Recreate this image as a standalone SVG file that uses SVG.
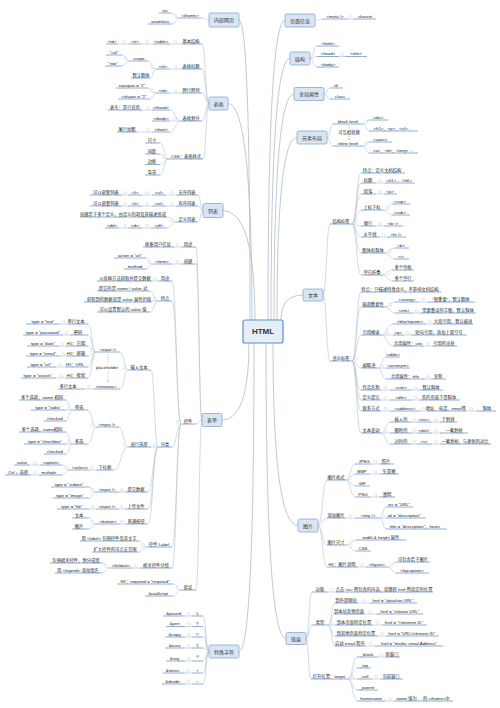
<svg xmlns="http://www.w3.org/2000/svg" width="500" height="708" viewBox="0 0 500 708">
<style>
.t{font-family:"Liberation Sans","Noto Sans CJK SC",sans-serif;font-size:4.3px;fill:#1a1a1a;text-anchor:middle;dominant-baseline:central}
.bt{font-family:"Liberation Sans","Noto Sans CJK SC",sans-serif;font-size:5px;fill:#333;text-anchor:middle;dominant-baseline:central}
.u{stroke:#6f9bd0;stroke-width:0.8;fill:none}
.c{stroke:#b6c2d0;stroke-width:0.6;fill:none}
.m{stroke:#adbccd;stroke-width:0.8;fill:none}
.box{fill:#d9e5f3;stroke:#86a8d0;stroke-width:0.8}
.k{fill:#fff;stroke:#c3cbd4;stroke-width:0.5}
.r{stroke:#c8b040;stroke-width:0.6;fill:none;stroke-dasharray:1 0.7}
</style>
<defs>
<marker id="ah" viewBox="0 0 6 6" refX="5" refY="3" markerWidth="4" markerHeight="4" orient="auto"><path d="M0 0L6 3L0 6" fill="none" stroke="#c8b040" stroke-width="1"/></marker>
</defs>
<rect width="500" height="708" fill="#fff"/>
<g id="connectors">
<path class="m" d="M239 20Q250 20 250 320M228 103.5Q252 103.5 252 320M223 210.5Q255 210.5 255 320M285 20.5Q268 20.5 268 320M290 58.5Q271 58.5 271 320M294 94Q274 94 274 320M297 137.5Q277 137.5 277 320M303 295Q281 295 281 320M249 343Q249 420 222 420M254 343Q254 651.5 239 651.5M273 343Q273 525.5 298 525.5M266 343Q266 638.5 286 638.5"/>
<path class="c" d="M209 20C205 20 205 18 201 18M179 18C175 18 175 13 171 13M179 18C175.5 18 175.5 24 172 24"/>
<path class="c" d="M209 103.5C205.5 103.5 205.5 44 202 44M209 103.5C205.5 103.5 205.5 69 202 69M209 103.5C205.5 103.5 205.5 93 202 93M209 103.5C205.5 103.5 205.5 121 202 121M209 103.5C206 103.5 206 159 203 159M181 44H170M153 44H141M129 44H118M181 69H170M156 69C152 69 152 61 148 61M156 69C153 69 153 78 150 78M130 61C126 61 126 55 122 55M130 61C126 61 126 66 122 66M181 93H170M156 93C152 93 152 88 148 88M156 93C153 93 153 99 150 99M181 121C175.5 121 175.5 110 170 110M181 121H170M181 121C175.5 121 175.5 132 170 132M152 110H142M152 132H137M168 159C164 159 164 143 160 143M168 159C164 159 164 154 160 154M168 159C164 159 164 164.5 160 164.5M168 159C164 159 164 175 160 175"/>
<path class="c" d="M203 210.5C200.5 210.5 200.5 195 198 195M203 210.5C200.5 210.5 200.5 206 198 206M203 210.5C200.5 210.5 200.5 222 198 222M176 195H166M152 195H142M128 195H122M176 206H166M152 206H142M128 206H122M176 222C171.5 222 171.5 217 167 217M176 222C171.5 222 171.5 228 167 228M151 228H142M128 228H119"/>
<path class="c" d="M202 420C199 420 199 247 196 247M202 420C199 420 199 264 196 264M202 420C199 420 199 424 196 424M202 420C199 420 199 590 196 590M181 247H174M181 264H172M153 264C149.5 264 149.5 258 146 258M153 264C149.5 264 149.5 269 146 269M181 590C177 590 177 584 173 584M181 590C177 590 177 596 173 596"/>
<path class="c" d="M181 424C176.5 424 176.5 281 172 281M181 424C176.5 424 176.5 301 172 301M181 424C176.5 424 176.5 447 172 447M181 424C176.5 424 176.5 547 172 547M181 424C176.5 424 176.5 568 172 568M158 281H152M158 301C154 301 154 291 150 291M158 301H152M158 301C154 301 154 312 150 312M158 447C154.5 447 154.5 370 151 370M158 447H151M158 447C153 447 153 492 148 492M158 447C153 447 153 509 148 509M158 447C153 447 153 524 148 524M147 547C143 547 143 541 139 541M147 547C143 547 143 552 139 552M140 568H133M110 568C106 568 106 563 102 563M110 568C106 568 106 573 102 573"/>
<path class="c" d="M128 370C124 370 124 352 120 352M128 370C124 370 124 389 120 389M96 352C92 352 92 324 88 324M96 352C92 352 92 335 88 335M96 352C92 352 92 346 88 346M96 352C92 352 92 356 88 356M96 352C92 352 92 367 88 367M96 352C92 352 92 378 88 378M67 324H60M70 335H63M66 346H59M66 356H60M65 367H56M66 378H56M93 389H85"/>
<path class="c" d="M128 447C123.5 447 123.5 427 119 427M128 447C121 447 121 470 114 470M96 427C92 427 92 410 88 410M96 427C92 427 92 444 88 444M72 410C69 410 69 400 66 400M72 410H66M72 410C69 410 69 421 66 421M72 444C69 444 69 432 66 432M72 444H66M72 444C69 444 69 454 66 454M96 470H89M70 470C66 470 66 465 62 465M70 470C66 470 66 475 62 475M40 465H30M39 475H31"/>
<path class="c" d="M125 492H119M96 492C92.5 492 92.5 487 89 487M96 492C92.5 492 92.5 498 89 498M125 509H119M96 509H89M125 524H120M96 524C92.5 524 92.5 518 89 518M96 524C92.5 524 92.5 529 89 529"/>
<path class="c" d="M209 651.5C206 651.5 206 616 203 616M209 651.5C206 651.5 206 626.5 203 626.5M209 651.5C206 651.5 206 637 203 637M209 651.5C206 651.5 206 648 203 648M209 651.5C206 651.5 206 661 203 661M209 651.5C206 651.5 206 673 203 673M209 651.5C206 651.5 206 684 203 684M192 616H185M192 626.5H185M192 637H185M192 648H185M192 661H185M192 673H185M192 684H185"/>
<path class="c" d="M315 20.5C318.5 20.5 318.5 19 322 19M348 19H353M310 58.5C313.5 58.5 313.5 46 317 46M310 58.5C313.5 58.5 313.5 56.5 317 56.5M310 58.5C313.5 58.5 313.5 67 317 67M339 56.5H345M324 94C327 94 327 88 330 88M324 94C327 94 327 99 330 99M327 137.5C330 137.5 330 124 333 124M327 137.5C330 137.5 330 146 333 146M363 124C366 124 366 120 369 120M363 124C366 124 366 131 369 131M363 146C366 146 366 142 369 142M363 146C366 146 366 153 369 153"/>
<path class="c" d="M323 295C326.5 295 326.5 224 330 224M323 295C326.5 295 326.5 361 330 361M352 224C356.5 224 356.5 173 361 173M352 224C356.5 224 356.5 183 361 183M352 224C356.5 224 356.5 194 361 194M352 224C356.5 224 356.5 210 361 210M352 224C356.5 224 356.5 226 361 226M352 224C356.5 224 356.5 237 361 237M352 224C356.5 224 356.5 253 361 253M352 224C356.5 224 356.5 275 361 275M376 183H385M376 194H384M383 210C387.5 210 387.5 204 392 204M383 210C387.5 210 387.5 215 392 215M376 226H384M380 237H387M385 253C389.5 253 389.5 248 394 248M385 253C389.5 253 389.5 259 394 259M383 275C387.5 275 387.5 270 392 270M383 275C387.5 275 387.5 281 392 281"/>
<path class="c" d="M352 361C356.5 361 356.5 292 361 292M352 361C356.5 361 356.5 307 361 307M352 361C356.5 361 356.5 335 361 335M352 361C356.5 361 356.5 368 361 368M352 361C356.5 361 356.5 390 361 390M352 361C356.5 361 356.5 400 361 400M352 361C356.5 361 356.5 411 361 411M352 361C356.5 361 356.5 433 361 433M385 307C390 307 390 302 395 302M385 307C390 307 390 313 395 313M419 302H427M413 313H420M381 335C387 335 387 324 393 324M381 335H393M381 335C387 335 387 346 393 346M426 324H433M404 335H411M424 346H432M378 368C382 368 382 357 386 357M378 368H386M378 368C382 368 382 379 386 379M425 379H431M381 390H390M412 390H419M381 400H390M412 400H419M381 411H390M420 411H427M466 411H476M381 433C385.5 433 385.5 422 390 422M381 433H390M381 433C385.5 433 385.5 444 390 444M412 422H417M432 422H440M412 433H417M432 433H440M412 444H417M432 444H440"/>
<path class="c" d="M318 525.5C322.5 525.5 322.5 480 327 480M318 525.5C322.5 525.5 322.5 518 327 518M318 525.5C322.5 525.5 322.5 545 327 545M318 525.5C322.5 525.5 322.5 567 327 567M346 480C350.5 480 350.5 464 355 464M346 480C350.5 480 350.5 474 355 474M346 480C350.5 480 350.5 486 355 486M346 480C350.5 480 350.5 497 355 497M372 464H379M370 474H379M371 497H379M346 518H355M380 518C383 518 383 507 386 507M380 518H386M380 518C383 518 383 529 386 529M346 545C351 545 351 540 356 540M346 545C351 545 351 551 356 551M358 567H366M388 567C392 567 392 562 396 562M388 567C392 567 392 573 396 573"/>
<path class="c" d="M306 638.5C309 638.5 309 592 312 592M306 638.5C309 638.5 309 625 312 625M306 638.5C308.5 638.5 308.5 679 311 679M328 592H336M328 625C331.5 625 331.5 603 335 603M328 625C331.5 625 331.5 614 335 614M328 625H335M328 625C331.5 625 331.5 636 335 636M328 625C331.5 625 331.5 646 335 646M358 603H370M364 614H376M373 625H382M378 636H386M366 646H375M348 679C352.5 679 352.5 657 357 657M348 679C352.5 679 352.5 668 357 668M348 679H357M348 679C352.5 679 352.5 690 357 690M348 679C352.5 679 352.5 701 357 701M378 657H385M372 679H380M386 701H394"/>
</g>
<g id="relations">
<path class="r" d="M349 129.5V125.5M349 136V140" marker-end="url(#ah)"/>
<text class="t" x="349" y="132.7">可互相转换</text>
<path class="r" d="M108 363.5V354M108 370.5V382" marker-end="url(#ah)"/>
<text class="t" x="107" y="367">placeholder</text>
</g>
<g id="markers">
<circle class="k" r="1.5" cx="175.5" cy="16"/><circle class="k" r="1.5" cx="175.5" cy="42"/><circle class="k" r="1.5" cx="147" cy="42"/><circle class="k" r="1.5" cx="123.5" cy="42"/><circle class="k" r="1.5" cx="175.5" cy="67"/><circle class="k" r="1.5" cx="152" cy="67"/><circle class="k" r="1.5" cx="126" cy="59"/><circle class="k" r="1.5" cx="175.5" cy="91"/><circle class="k" r="1.5" cx="152" cy="91"/><circle class="k" r="1.5" cx="175.5" cy="119"/><circle class="k" r="1.5" cx="147.5" cy="108"/><circle class="k" r="1.5" cx="147.5" cy="130"/><circle class="k" r="1.5" cx="164" cy="157"/>
<circle class="k" r="1.5" cx="171.5" cy="193"/><circle class="k" r="1.5" cx="147" cy="193"/><circle class="k" r="1.5" cx="125" cy="193"/><circle class="k" r="1.5" cx="171.5" cy="204"/><circle class="k" r="1.5" cx="147" cy="204"/><circle class="k" r="1.5" cx="125" cy="204"/><circle class="k" r="1.5" cx="171.5" cy="220"/><circle class="k" r="1.5" cx="147" cy="226"/><circle class="k" r="1.5" cx="125" cy="226"/>
<circle class="k" r="1.5" cx="177.5" cy="245"/><circle class="k" r="1.5" cx="177.5" cy="262"/><circle class="k" r="1.5" cx="149.5" cy="262"/><circle class="k" r="1.5" cx="177.5" cy="422"/><circle class="k" r="1.5" cx="177.5" cy="588"/>
<circle class="k" r="1.5" cx="155" cy="279"/><circle class="k" r="1.5" cx="155" cy="299"/><circle class="k" r="1.5" cx="155" cy="445"/><circle class="k" r="1.5" cx="143" cy="545"/><circle class="k" r="1.5" cx="136.5" cy="566"/><circle class="k" r="1.5" cx="106" cy="566"/>
<circle class="k" r="1.5" cx="124.5" cy="368"/><circle class="k" r="1.5" cx="124.5" cy="445"/><circle class="k" r="1.5" cx="122" cy="490"/><circle class="k" r="1.5" cx="92.5" cy="490"/><circle class="k" r="1.5" cx="122" cy="507"/><circle class="k" r="1.5" cx="92.5" cy="507"/><circle class="k" r="1.5" cx="122" cy="522"/><circle class="k" r="1.5" cx="92.5" cy="522"/>
<circle class="k" r="1.5" cx="92" cy="350"/><circle class="k" r="1.5" cx="89" cy="387"/><circle class="k" r="1.5" cx="63.5" cy="322"/><circle class="k" r="1.5" cx="66.5" cy="333"/><circle class="k" r="1.5" cx="62.5" cy="344"/><circle class="k" r="1.5" cx="63" cy="354"/><circle class="k" r="1.5" cx="60.5" cy="365"/><circle class="k" r="1.5" cx="61" cy="376"/>
<circle class="k" r="1.5" cx="92" cy="425"/><circle class="k" r="1.5" cx="92" cy="468"/><circle class="k" r="1.5" cx="69" cy="408"/><circle class="k" r="1.5" cx="69" cy="442"/><circle class="k" r="1.5" cx="66.5" cy="468"/><circle class="k" r="1.5" cx="35" cy="463"/><circle class="k" r="1.5" cx="35" cy="473"/>
<circle class="k" r="1.5" cx="188.5" cy="614"/><circle class="k" r="1.5" cx="188.5" cy="624.5"/><circle class="k" r="1.5" cx="188.5" cy="635"/><circle class="k" r="1.5" cx="188.5" cy="646"/><circle class="k" r="1.5" cx="188.5" cy="659"/><circle class="k" r="1.5" cx="188.5" cy="671"/><circle class="k" r="1.5" cx="188.5" cy="682"/>
<circle class="k" r="1.5" cx="350.5" cy="17"/><circle class="k" r="1.5" cx="342" cy="54.5"/><circle class="k" r="1.5" cx="366" cy="122"/><circle class="k" r="1.5" cx="366" cy="144"/><circle class="k" r="1.5" cx="356" cy="222"/><circle class="k" r="1.5" cx="356" cy="359"/>
<circle class="k" r="1.5" cx="380.5" cy="181"/><circle class="k" r="1.5" cx="380" cy="192"/><circle class="k" r="1.5" cx="387.5" cy="208"/><circle class="k" r="1.5" cx="380" cy="224"/><circle class="k" r="1.5" cx="383.5" cy="235"/><circle class="k" r="1.5" cx="389.5" cy="251"/><circle class="k" r="1.5" cx="387.5" cy="273"/>
<circle class="k" r="1.5" cx="390" cy="305"/><circle class="k" r="1.5" cx="423" cy="300"/><circle class="k" r="1.5" cx="416.5" cy="311"/><circle class="k" r="1.5" cx="387" cy="333"/><circle class="k" r="1.5" cx="429.5" cy="322"/><circle class="k" r="1.5" cx="407.5" cy="333"/><circle class="k" r="1.5" cx="428" cy="344"/><circle class="k" r="1.5" cx="382" cy="366"/><circle class="k" r="1.5" cx="428" cy="377"/><circle class="k" r="1.5" cx="385.5" cy="388"/><circle class="k" r="1.5" cx="415.5" cy="388"/><circle class="k" r="1.5" cx="385.5" cy="398"/><circle class="k" r="1.5" cx="415.5" cy="398"/><circle class="k" r="1.5" cx="385.5" cy="409"/><circle class="k" r="1.5" cx="423.5" cy="409"/><circle class="k" r="1.5" cx="471" cy="409"/><circle class="k" r="1.5" cx="385.5" cy="431"/><circle class="k" r="1.5" cx="414.5" cy="420"/><circle class="k" r="1.5" cx="436" cy="420"/><circle class="k" r="1.5" cx="414.5" cy="431"/><circle class="k" r="1.5" cx="436" cy="431"/><circle class="k" r="1.5" cx="414.5" cy="442"/><circle class="k" r="1.5" cx="436" cy="442"/>
<circle class="k" r="1.5" cx="350.5" cy="478"/><circle class="k" r="1.5" cx="375.5" cy="462"/><circle class="k" r="1.5" cx="375.5" cy="472"/><circle class="k" r="1.5" cx="375.5" cy="495"/><circle class="k" r="1.5" cx="350.5" cy="516"/><circle class="k" r="1.5" cx="383" cy="516"/><circle class="k" r="1.5" cx="350.5" cy="543"/><circle class="k" r="1.5" cx="362" cy="565"/><circle class="k" r="1.5" cx="392" cy="565"/>
<circle class="k" r="1.5" cx="331.5" cy="590"/><circle class="k" r="1.5" cx="331.5" cy="623"/><circle class="k" r="1.5" cx="364" cy="601"/><circle class="k" r="1.5" cx="370" cy="612"/><circle class="k" r="1.5" cx="377.5" cy="623"/><circle class="k" r="1.5" cx="382" cy="634"/><circle class="k" r="1.5" cx="370.5" cy="644"/><circle class="k" r="1.5" cx="352.5" cy="677"/><circle class="k" r="1.5" cx="381.5" cy="655"/><circle class="k" r="1.5" cx="376" cy="677"/><circle class="k" r="1.5" cx="390" cy="699"/>
</g>
<g id="html"><rect x="243" y="320" width="40" height="23" rx="2" fill="#e6eef8" stroke="#5e8fcb" stroke-width="1.2"/><text x="263" y="331.5" font-family="Liberation Sans, sans-serif" font-size="8" font-weight="bold" fill="#333" text-anchor="middle" dominant-baseline="central">HTML</text></g>
<g id="t-nq"><rect class="box" x="209" y="13" width="30" height="14" rx="1.5"/><text class="bt" x="224" y="20">内嵌网页</text></g>
<g id="t-bg"><rect class="box" x="209" y="97" width="19" height="13" rx="1.5"/><text class="bt" x="218.5" y="103.5">表格</text></g>
<g id="t-lb"><rect class="box" x="203" y="203.5" width="20" height="14" rx="1.5"/><text class="bt" x="213" y="210.5">列表</text></g>
<g id="t-bd"><rect class="box" x="202" y="413.5" width="20" height="13" rx="1.5"/><text class="bt" x="212" y="420">表单</text></g>
<g id="t-ts"><rect class="box" x="209" y="645" width="30" height="13" rx="1.5"/><text class="bt" x="224" y="651.5">特殊字符</text></g>
<g id="t-ym"><rect class="box" x="285" y="14" width="30" height="13" rx="1.5"/><text class="bt" x="300" y="20.5">页面信息</text></g>
<g id="t-jg"><rect class="box" x="290" y="52" width="20" height="13" rx="1.5"/><text class="bt" x="300" y="58.5">结构</text></g>
<g id="t-qj"><rect class="box" x="294" y="87.5" width="30" height="13" rx="1.5"/><text class="bt" x="309" y="94">全局属性</text></g>
<g id="t-ys"><rect class="box" x="297" y="131" width="30" height="13" rx="1.5"/><text class="bt" x="312" y="137.5">元素布局</text></g>
<g id="t-wb"><rect class="box" x="303" y="289" width="20" height="12" rx="1.5"/><text class="bt" x="313" y="295">文本</text></g>
<g id="t-tp"><rect class="box" x="298" y="519" width="20" height="13" rx="1.5"/><text class="bt" x="308" y="525.5">图片</text></g>
<g id="t-lj"><rect class="box" x="286" y="632.5" width="20" height="12" rx="1.5"/><text class="bt" x="296" y="638.5">链接</text></g>

<g id="a1"><text class="t" x="190" y="15">&lt;iframe&gt;</text><path class="u" d="M179 18H201"/></g>
<g id="a2"><text class="t" x="165" y="10">src</text><path class="u" d="M159 13H171"/></g>
<g id="a3"><text class="t" x="160" y="21">seamless</text><path class="u" d="M148 24H172"/></g>
<g id="b1"><text class="t" x="191" y="41">基本结构</text><path class="u" d="M181 44H202"/></g>
<g id="b2"><text class="t" x="161" y="41">&lt;table&gt;</text><path class="u" d="M153 44H170"/></g>
<g id="b3"><text class="t" x="135" y="41">&lt;tr&gt;</text><path class="u" d="M129 44H141"/></g>
<g id="b4"><text class="t" x="112" y="41">&lt;td&gt;</text><path class="u" d="M106 44H118"/></g>
<g id="b5"><text class="t" x="191" y="66">表格标题</text><path class="u" d="M181 69H202"/></g>
<g id="b6"><text class="t" x="163" y="66">&lt;th&gt;</text><path class="u" d="M156 69H170"/></g>
<g id="b7"><text class="t" x="139" y="58">scope</text><path class="u" d="M130 61H148"/></g>
<g id="b8"><text class="t" x="141" y="75">默认粗体</text><path class="u" d="M131 78H150"/></g>
<g id="b9"><text class="t" x="114" y="52">“col”</text><path class="u" d="M106 55H122"/></g>
<g id="b10"><text class="t" x="113" y="63">“row”</text><path class="u" d="M105 66H122"/></g>
<g id="b11"><text class="t" x="191" y="90">跨行跨列</text><path class="u" d="M181 93H202"/></g>
<g id="b12"><text class="t" x="163" y="90">&lt;td&gt;</text><path class="u" d="M156 93H170"/></g>
<g id="b13"><text class="t" x="132" y="85">rowspan = “2”</text><path class="u" d="M116 88H148"/></g>
<g id="b14"><text class="t" x="134" y="96">colspan = “2”</text><path class="u" d="M118 99H150"/></g>
<g id="b15"><text class="t" x="191" y="118">表格划分</text><path class="u" d="M181 121H202"/></g>
<g id="b16"><text class="t" x="161" y="107">&lt;thead&gt;</text><path class="u" d="M152 110H170"/></g>
<g id="b17"><text class="t" x="161" y="118">&lt;tbody&gt;</text><path class="u" d="M152 121H170"/></g>
<g id="b18"><text class="t" x="161" y="129">&lt;tfoot&gt;</text><path class="u" d="M152 132H170"/></g>
<g id="b19"><text class="t" x="125" y="107">表头：首行底色</text><path class="u" d="M108 110H142"/></g>
<g id="b20"><text class="t" x="127" y="129">尾行加粗</text><path class="u" d="M117 132H137"/></g>
<g id="b21"><text class="t" x="186" y="156">CSS：表格样式</text><path class="u" d="M168 159H203"/></g>
<g id="b22"><text class="t" x="152" y="140">尺寸</text><path class="u" d="M145 143H160"/></g>
<g id="b23"><text class="t" x="152" y="151">间距</text><path class="u" d="M145 154H160"/></g>
<g id="b24"><text class="t" x="152" y="161.5">边框</text><path class="u" d="M145 164.5H160"/></g>
<g id="b25"><text class="t" x="152" y="172">背景</text><path class="u" d="M145 175H160"/></g>

<g id="c1"><text class="t" x="187" y="192">无序列表</text><path class="u" d="M176 195H198"/></g>
<g id="c2"><text class="t" x="159" y="192">&lt;ul&gt;</text><path class="u" d="M152 195H166"/></g>
<g id="c3"><text class="t" x="135" y="192">&lt;li&gt;</text><path class="u" d="M128 195H142"/></g>
<g id="c4"><text class="t" x="106" y="192">可以嵌套列表</text><path class="u" d="M90 195H122"/></g>
<g id="c5"><text class="t" x="187" y="203">有序列表</text><path class="u" d="M176 206H198"/></g>
<g id="c6"><text class="t" x="159" y="203">&lt;ol&gt;</text><path class="u" d="M152 206H166"/></g>
<g id="c7"><text class="t" x="135" y="203">&lt;li&gt;</text><path class="u" d="M128 206H142"/></g>
<g id="c8"><text class="t" x="106" y="203">可以嵌套列表</text><path class="u" d="M90 206H122"/></g>
<g id="c9"><text class="t" x="187" y="219">定义列表</text><path class="u" d="M176 222H198"/></g>
<g id="c10"><text class="t" x="123" y="214">创建若干多个定义，由定义的项及其描述组成</text><path class="u" d="M80 217H167"/></g>
<g id="c11"><text class="t" x="159" y="225">&lt;dl&gt;</text><path class="u" d="M151 228H167"/></g>
<g id="c12"><text class="t" x="135" y="225">&lt;dt&gt;</text><path class="u" d="M128 228H142"/></g>
<g id="c13"><text class="t" x="112" y="225">&lt;dd&gt;</text><path class="u" d="M105 228H119"/></g>

<g id="d1"><text class="t" x="188" y="244">用途</text><path class="u" d="M181 247H196"/></g>
<g id="d2"><text class="t" x="158" y="244">收集用户信息</text><path class="u" d="M143 247H174"/></g>
<g id="d3"><text class="t" x="188" y="261">创建</text><path class="u" d="M181 264H196"/></g>
<g id="d4"><text class="t" x="162" y="261">&lt;form&gt;</text><path class="u" d="M153 264H172"/></g>
<g id="d5"><text class="t" x="130" y="255">action = “url”</text><path class="u" d="M114 258H146"/></g>
<g id="d6"><text class="t" x="135" y="266">method</text><path class="u" d="M124 269H146"/></g>
<g id="d7"><text class="t" x="188" y="421">控件</text><path class="u" d="M181 424H196"/></g>
<g id="d8"><text class="t" x="188" y="587">验证</text><path class="u" d="M181 590H196"/></g>
<g id="d9"><text class="t" x="145" y="581">H5：required = “required”</text><path class="u" d="M117 584H173"/></g>
<g id="d10"><text class="t" x="158" y="593">JavaScript</text><path class="u" d="M145 596H173"/></g>

<g id="e1"><text class="t" x="165" y="278">用途</text><path class="u" d="M158 281H172"/></g>
<g id="e2"><text class="t" x="125" y="278">以各种方法获取并提交数据</text><path class="u" d="M97 281H152"/></g>
<g id="e3"><text class="t" x="165" y="298">特点</text><path class="u" d="M158 301H172"/></g>
<g id="e4"><text class="t" x="123" y="288">提交的是 name / value 对</text><path class="u" d="M97 291H150"/></g>
<g id="e5"><text class="t" x="119" y="299">获取到的数据就是 value 属性的值</text><path class="u" d="M84 302H152"/></g>
<g id="e6"><text class="t" x="123" y="309">可以设置默认的 value 值</text><path class="u" d="M97 312H150"/></g>
<g id="e7"><text class="t" x="165" y="444">分类</text><path class="u" d="M158 447H172"/></g>
<g id="e8"><text class="t" x="159" y="544">控件 Label</text><path class="u" d="M147 547H172"/></g>
<g id="e9"><text class="t" x="109" y="538">用 &lt;label&gt; 包围控件及其文字</text><path class="u" d="M80 541H139"/></g>
<g id="e10"><text class="t" x="115" y="549">扩大控件的可点击范围</text><path class="u" d="M92 552H139"/></g>
<g id="e11"><text class="t" x="156" y="565">相关控件分组</text><path class="u" d="M140 568H172"/></g>
<g id="e12"><text class="t" x="121" y="565">&lt;fieldset&gt;</text><path class="u" d="M110 568H133"/></g>
<g id="e13"><text class="t" x="76" y="560">包围相关控件，划分成组</text><path class="u" d="M50 563H102"/></g>
<g id="e14"><text class="t" x="78" y="570">用 &lt;legend&gt; 添加组名</text><path class="u" d="M55 573H102"/></g>

<g id="f1"><text class="t" x="139" y="367">输入文本</text><path class="u" d="M128 370H151"/></g>
<g id="f2"><text class="t" x="139" y="444">进行选择</text><path class="u" d="M128 447H151"/></g>
<g id="f3"><text class="t" x="136" y="489">提交数据</text><path class="u" d="M125 492H148"/></g>
<g id="f4"><text class="t" x="107" y="489">&lt;input /&gt;</text><path class="u" d="M96 492H119"/></g>
<g id="f5"><text class="t" x="69" y="484">type = “submit”</text><path class="u" d="M51 487H89"/></g>
<g id="f6"><text class="t" x="70" y="495">type = “image”</text><path class="u" d="M53 498H89"/></g>
<g id="f7"><text class="t" x="136" y="506">上传文件</text><path class="u" d="M125 509H148"/></g>
<g id="f8"><text class="t" x="107" y="506">&lt;input /&gt;</text><path class="u" d="M96 509H119"/></g>
<g id="f9"><text class="t" x="72" y="506">type = “file”</text><path class="u" d="M57 509H89"/></g>
<g id="f10"><text class="t" x="136" y="521">普通按钮</text><path class="u" d="M125 524H148"/></g>
<g id="f11"><text class="t" x="108" y="521">&lt;button&gt;</text><path class="u" d="M96 524H120"/></g>
<g id="f12"><text class="t" x="79" y="515">文本</text><path class="u" d="M72 518H89"/></g>
<g id="f13"><text class="t" x="79" y="526">图片</text><path class="u" d="M72 529H89"/></g>

<g id="g1"><text class="t" x="108" y="349">&lt;input /&gt;</text><path class="u" d="M96 352H120"/></g>
<g id="g2"><text class="t" x="106" y="386">&lt;textarea&gt;</text><path class="u" d="M93 389H120"/></g>
<g id="g3"><text class="t" x="68" y="386">多行文本</text><path class="u" d="M58 389H85"/></g>
<g id="g4"><text class="t" x="43" y="321">type = “text”</text><path class="u" d="M26 324H60"/></g>
<g id="g5"><text class="t" x="76" y="321">单行文本</text><path class="u" d="M67 324H88"/></g>
<g id="g6"><text class="t" x="43" y="332">type = “password”</text><path class="u" d="M23 335H63"/></g>
<g id="g7"><text class="t" x="78" y="332">密码</text><path class="u" d="M70 335H88"/></g>
<g id="g8"><text class="t" x="43" y="343">type = “date”</text><path class="u" d="M27 346H59"/></g>
<g id="g9"><text class="t" x="76" y="343">H5：日期</text><path class="u" d="M66 346H88"/></g>
<g id="g10"><text class="t" x="43" y="353">type = “email”</text><path class="u" d="M26 356H60"/></g>
<g id="g11"><text class="t" x="76" y="353">H5：邮箱</text><path class="u" d="M66 356H88"/></g>
<g id="g12"><text class="t" x="41" y="364">type = “url”</text><path class="u" d="M27 367H56"/></g>
<g id="g13"><text class="t" x="75" y="364">H5：URL</text><path class="u" d="M65 367H88"/></g>
<g id="g14"><text class="t" x="38" y="375">type = “search”</text><path class="u" d="M21 378H56"/></g>
<g id="g15"><text class="t" x="76" y="375">H5：搜索</text><path class="u" d="M66 378H88"/></g>

<g id="h1"><text class="t" x="107" y="424">&lt;input /&gt;</text><path class="u" d="M96 427H119"/></g>
<g id="h2"><text class="t" x="105" y="467">下拉框</text><path class="u" d="M96 470H114"/></g>
<g id="h3"><text class="t" x="79" y="407">单选</text><path class="u" d="M72 410H88"/></g>
<g id="h4"><text class="t" x="79" y="441">多选</text><path class="u" d="M72 444H88"/></g>
<g id="h5"><text class="t" x="42" y="397">多个选项，name 相同</text><path class="u" d="M19 400H66"/></g>
<g id="h6"><text class="t" x="48" y="407">type = “radio”</text><path class="u" d="M31 410H66"/></g>
<g id="h7"><text class="t" x="55" y="418">checked</text><path class="u" d="M44 421H66"/></g>
<g id="h8"><text class="t" x="42" y="429">多个选项，name相同</text><path class="u" d="M19 432H66"/></g>
<g id="h9"><text class="t" x="45" y="441">type = “checkbox”</text><path class="u" d="M24 444H66"/></g>
<g id="h10"><text class="t" x="55" y="451">checked</text><path class="u" d="M44 454H66"/></g>
<g id="h11"><text class="t" x="80" y="467">&lt;select&gt;</text><path class="u" d="M70 470H89"/></g>
<g id="h12"><text class="t" x="51" y="462">&lt;option&gt;</text><path class="u" d="M40 465H62"/></g>
<g id="h13"><text class="t" x="22" y="462">value</text><path class="u" d="M14 465H30"/></g>
<g id="h14"><text class="t" x="49" y="472">multiple</text><path class="u" d="M39 475H62"/></g>
<g id="h15"><text class="t" x="18" y="472">Ctrl + 选择</text><path class="u" d="M5 475H31"/></g>

<g id="i1"><text class="t" x="197.5" y="613">£</text><path class="u" d="M192 616H203"/></g>
<g id="i2"><text class="t" x="174" y="613">&amp;pound;</text><path class="u" d="M163 616H185"/></g>
<g id="i3"><text class="t" x="197.5" y="623.5">¥</text><path class="u" d="M192 626.5H203"/></g>
<g id="i4"><text class="t" x="175" y="623.5">&amp;yen;</text><path class="u" d="M166 626.5H185"/></g>
<g id="i5"><text class="t" x="197.5" y="634">©</text><path class="u" d="M192 637H203"/></g>
<g id="i6"><text class="t" x="175" y="634">&amp;copy;</text><path class="u" d="M165 637H185"/></g>
<g id="i7"><text class="t" x="197.5" y="645">€</text><path class="u" d="M192 648H203"/></g>
<g id="i8"><text class="t" x="175" y="645">&amp;euro;</text><path class="u" d="M165 648H185"/></g>
<g id="i9"><text class="t" x="197.5" y="656">®</text><path class="u" d="M192 661H203"/></g>
<g id="i10"><text class="t" x="175" y="658">&amp;reg;</text><path class="u" d="M166 661H185"/></g>
<g id="i11"><text class="t" x="197.5" y="670">×</text><path class="u" d="M192 673H203"/></g>
<g id="i12"><text class="t" x="173" y="670">&amp;times;</text><path class="u" d="M163 673H185"/></g>
<g id="i13"><text class="t" x="197.5" y="681">÷</text><path class="u" d="M192 684H203"/></g>
<g id="i14"><text class="t" x="173" y="681">&amp;divide;</text><path class="u" d="M162 684H185"/></g>

<g id="j1"><text class="t" x="335" y="16">&lt;meta /&gt;</text><path class="u" d="M322 19H348"/></g>
<g id="j2"><text class="t" x="365" y="16">charset</text><path class="u" d="M353 19H376"/></g>
<g id="k1"><text class="t" x="328" y="43">&lt;html&gt;</text><path class="u" d="M317 46H339"/></g>
<g id="k2"><text class="t" x="328" y="53.5">&lt;head&gt;</text><path class="u" d="M317 56.5H339"/></g>
<g id="k3"><text class="t" x="328" y="64">&lt;body&gt;</text><path class="u" d="M317 67H339"/></g>
<g id="k4"><text class="t" x="356" y="53.5">&lt;title&gt;</text><path class="u" d="M345 56.5H367"/></g>
<g id="l1"><text class="t" x="336" y="85">id</text><path class="u" d="M330 88H343"/></g>
<g id="l2"><text class="t" x="340" y="96">class</text><path class="u" d="M330 99H350"/></g>
<g id="m1"><text class="t" x="348" y="121">block level</text><path class="u" d="M333 124H363"/></g>
<g id="m2"><text class="t" x="348" y="143">inline level</text><path class="u" d="M333 146H363"/></g>
<g id="m3"><text class="t" x="378" y="117">&lt;div&gt;</text><path class="u" d="M369 120H388"/></g>
<g id="m4"><text class="t" x="393" y="128">&lt;h1&gt;、&lt;p&gt;、&lt;ul&gt; ...</text><path class="u" d="M369 131H418"/></g>
<g id="m5"><text class="t" x="380" y="139">&lt;span&gt;</text><path class="u" d="M369 142H392"/></g>
<g id="m6"><text class="t" x="393" y="150">&lt;a&gt;、&lt;b&gt;、&lt;img&gt; ...</text><path class="u" d="M369 153H418"/></g>

<g id="n1"><text class="t" x="341" y="221">结构标签</text><path class="u" d="M330 224H352"/></g>
<g id="n2"><text class="t" x="341" y="358">语义标签</text><path class="u" d="M330 361H352"/></g>
<g id="o1"><text class="t" x="382" y="170">特点：定义文档结构</text><path class="u" d="M361 173H405"/></g>
<g id="o2"><text class="t" x="368" y="180">标题</text><path class="u" d="M361 183H376"/></g>
<g id="o3"><text class="t" x="399" y="180">&lt;h1&gt; ... &lt;h6&gt;</text><path class="u" d="M385 183H415"/></g>
<g id="o4"><text class="t" x="368" y="191">段落</text><path class="u" d="M361 194H376"/></g>
<g id="o5"><text class="t" x="390" y="191">&lt;p&gt;</text><path class="u" d="M384 194H397"/></g>
<g id="o6"><text class="t" x="372" y="207">上标下标</text><path class="u" d="M361 210H383"/></g>
<g id="o7"><text class="t" x="400" y="201">&lt;sup&gt;</text><path class="u" d="M392 204H410"/></g>
<g id="o8"><text class="t" x="400" y="212">&lt;sub&gt;</text><path class="u" d="M392 215H410"/></g>
<g id="o9"><text class="t" x="368" y="223">换行</text><path class="u" d="M361 226H376"/></g>
<g id="o10"><text class="t" x="393" y="223">&lt;br /&gt;</text><path class="u" d="M384 226H403"/></g>
<g id="o11"><text class="t" x="370" y="234">水平线</text><path class="u" d="M361 237H380"/></g>
<g id="o12"><text class="t" x="396" y="234">&lt;hr /&gt;</text><path class="u" d="M387 237H406"/></g>
<g id="o13"><text class="t" x="373" y="250">粗体和斜体</text><path class="u" d="M361 253H385"/></g>
<g id="o14"><text class="t" x="401" y="245">&lt;b&gt;</text><path class="u" d="M394 248H409"/></g>
<g id="o15"><text class="t" x="401" y="256">&lt;i&gt;</text><path class="u" d="M394 259H409"/></g>
<g id="o16"><text class="t" x="372" y="272">空白折叠</text><path class="u" d="M361 275H383"/></g>
<g id="o17"><text class="t" x="403" y="267">多个空格</text><path class="u" d="M392 270H414"/></g>
<g id="o18"><text class="t" x="403" y="278">多个空行</text><path class="u" d="M392 281H414"/></g>

<g id="p1"><text class="t" x="400" y="289">特点：只描述特殊含义，不影响文档结构</text><path class="u" d="M361 292H441"/></g>
<g id="p2"><text class="t" x="373" y="304">强调重要性</text><path class="u" d="M361 307H385"/></g>
<g id="p3"><text class="t" x="407" y="299">&lt;strong&gt;</text><path class="u" d="M395 302H419"/></g>
<g id="p4"><text class="t" x="451" y="299">“很重要”，默认粗体</text><path class="u" d="M427 302H475"/></g>
<g id="p5"><text class="t" x="404" y="310">&lt;em&gt;</text><path class="u" d="M395 313H413"/></g>
<g id="p6"><text class="t" x="448" y="310">需要重读的字眼，默认斜体</text><path class="u" d="M420 313H476"/></g>
<g id="p7"><text class="t" x="371" y="332">引用摘录</text><path class="u" d="M361 335H381"/></g>
<g id="p8"><text class="t" x="410" y="321">&lt;blockquote&gt;</text><path class="u" d="M393 324H426"/></g>
<g id="p9"><text class="t" x="453" y="321">大段引用，默认缩进</text><path class="u" d="M433 324H473"/></g>
<g id="p10"><text class="t" x="398" y="332">&lt;q&gt;</text><path class="u" d="M393 335H404"/></g>
<g id="p11"><text class="t" x="439" y="332">短句引用，添加上双引号</text><path class="u" d="M411 335H467"/></g>
<g id="p12"><text class="t" x="408" y="343">共用属性：cite</text><path class="u" d="M393 346H424"/></g>
<g id="p13"><text class="t" x="444" y="343">引用的出处</text><path class="u" d="M432 346H457"/></g>
<g id="p14"><text class="t" x="369" y="365">缩略语</text><path class="u" d="M361 368H378"/></g>
<g id="p15"><text class="t" x="393" y="354">&lt;abbr&gt;</text><path class="u" d="M386 357H400"/></g>
<g id="p16"><text class="t" x="398" y="365">&lt;acronym&gt;</text><path class="u" d="M386 368H410"/></g>
<g id="p17"><text class="t" x="405" y="376">共用属性：title</text><path class="u" d="M386 379H425"/></g>
<g id="p18"><text class="t" x="438" y="376">全称</text><path class="u" d="M431 379H446"/></g>
<g id="p19"><text class="t" x="371" y="387">作品名称</text><path class="u" d="M361 390H381"/></g>
<g id="p20"><text class="t" x="401" y="387">&lt;cite&gt;</text><path class="u" d="M390 390H412"/></g>
<g id="p21"><text class="t" x="431" y="387">默认斜体</text><path class="u" d="M419 390H443"/></g>
<g id="p22"><text class="t" x="371" y="397">定义提示</text><path class="u" d="M361 400H381"/></g>
<g id="p23"><text class="t" x="401" y="397">&lt;dfn&gt;</text><path class="u" d="M390 400H412"/></g>
<g id="p24"><text class="t" x="439" y="397">首的页面下是斜体</text><path class="u" d="M419 400H460"/></g>
<g id="p25"><text class="t" x="371" y="408">联系方式</text><path class="u" d="M361 411H381"/></g>
<g id="p26"><text class="t" x="405" y="408">&lt;address&gt;</text><path class="u" d="M390 411H420"/></g>
<g id="p27"><text class="t" x="446" y="408">地址、电话、email等</text><path class="u" d="M427 411H466"/></g>
<g id="p28"><text class="t" x="487" y="408">斜体</text><path class="u" d="M476 411H496"/></g>
<g id="p29"><text class="t" x="371" y="430">文本变动</text><path class="u" d="M361 433H381"/></g>
<g id="p30"><text class="t" x="401" y="419">插入的</text><path class="u" d="M390 422H412"/></g>
<g id="p31"><text class="t" x="424" y="419">&lt;ins&gt;</text><path class="u" d="M417 422H432"/></g>
<g id="p32"><text class="t" x="448" y="419">下划线</text><path class="u" d="M440 422H457"/></g>
<g id="p33"><text class="t" x="401" y="430">删除的</text><path class="u" d="M390 433H412"/></g>
<g id="p34"><text class="t" x="424" y="430">&lt;del&gt;</text><path class="u" d="M417 433H432"/></g>
<g id="p35"><text class="t" x="454" y="430">一笔划掉</text><path class="u" d="M440 433H468"/></g>
<g id="p36"><text class="t" x="401" y="441">过时的</text><path class="u" d="M390 444H412"/></g>
<g id="p37"><text class="t" x="424" y="441">&lt;s&gt;</text><path class="u" d="M417 444H432"/></g>
<g id="p38"><text class="t" x="465" y="441">一笔划掉，与更新的对比</text><path class="u" d="M440 444H491"/></g>

<g id="q1"><text class="t" x="336" y="477">图片格式</text><path class="u" d="M327 480H346"/></g>
<g id="q2"><text class="t" x="364" y="461">JPEG</text><path class="u" d="M355 464H372"/></g>
<g id="q3"><text class="t" x="386" y="461">照片</text><path class="u" d="M379 464H394"/></g>
<g id="q4"><text class="t" x="362" y="471">BMP</text><path class="u" d="M355 474H370"/></g>
<g id="q5"><text class="t" x="389" y="471">矢量图</text><path class="u" d="M379 474H399"/></g>
<g id="q6"><text class="t" x="362" y="483">GIF</text><path class="u" d="M355 486H370"/></g>
<g id="q7"><text class="t" x="363" y="494">PNG</text><path class="u" d="M355 497H371"/></g>
<g id="q8"><text class="t" x="387" y="494">透明</text><path class="u" d="M379 497H395"/></g>
<g id="q9"><text class="t" x="336" y="515">添加图片</text><path class="u" d="M327 518H346"/></g>
<g id="q10"><text class="t" x="368" y="515">&lt;img /&gt;</text><path class="u" d="M355 518H380"/></g>
<g id="q11"><text class="t" x="399" y="504">src = “URL”</text><path class="u" d="M386 507H413"/></g>
<g id="q12"><text class="t" x="404" y="515">alt = “description”</text><path class="u" d="M386 518H426"/></g>
<g id="q13"><text class="t" x="415" y="526">title = “description”，hover</text><path class="u" d="M386 529H447"/></g>
<g id="q14"><text class="t" x="336" y="542">图片尺寸</text><path class="u" d="M327 545H346"/></g>
<g id="q15"><text class="t" x="381" y="537">width &amp; height 属性</text><path class="u" d="M356 540H406"/></g>
<g id="q16"><text class="t" x="363" y="548">CSS</text><path class="u" d="M356 551H371"/></g>
<g id="q17"><text class="t" x="342" y="564">H5：图片说明</text><path class="u" d="M327 567H358"/></g>
<g id="q18"><text class="t" x="377" y="564">&lt;figure&gt;</text><path class="u" d="M366 567H388"/></g>
<g id="q19"><text class="t" x="413" y="559">可包含若干图片</text><path class="u" d="M396 562H430"/></g>
<g id="q20"><text class="t" x="412" y="570">&lt;figcaption&gt;</text><path class="u" d="M396 573H429"/></g>

<g id="r1"><text class="t" x="320" y="589">功能</text><path class="u" d="M312 592H328"/></g>
<g id="r2"><text class="t" x="384" y="589">点击 &lt;a&gt; 所包含的内容，就跳转 href 所指定的位置</text><path class="u" d="M336 592H433"/></g>
<g id="r3"><text class="t" x="320" y="622">类型</text><path class="u" d="M312 625H328"/></g>
<g id="r4"><text class="t" x="346" y="600">到外部网站</text><path class="u" d="M335 603H358"/></g>
<g id="r5"><text class="t" x="393" y="600">href = “absolute URL”</text><path class="u" d="M370 603H417"/></g>
<g id="r6"><text class="t" x="349" y="611">到本站其他页面</text><path class="u" d="M335 614H364"/></g>
<g id="r7"><text class="t" x="400" y="611">href = “relative URL”</text><path class="u" d="M376 614H423"/></g>
<g id="r8"><text class="t" x="354" y="622">到本页面特定位置</text><path class="u" d="M335 625H373"/></g>
<g id="r9"><text class="t" x="404" y="622">href = “#element ID”</text><path class="u" d="M382 625H427"/></g>
<g id="r10"><text class="t" x="356" y="633">到其他页面特定位置</text><path class="u" d="M335 636H378"/></g>
<g id="r11"><text class="t" x="412" y="633">href = “URL#element ID”</text><path class="u" d="M386 636H439"/></g>
<g id="r12"><text class="t" x="350" y="643">启动 email 程序</text><path class="u" d="M335 646H366"/></g>
<g id="r13"><text class="t" x="409" y="643">href = “mailto: email Address”</text><path class="u" d="M375 646H443"/></g>
<g id="r14"><text class="t" x="329" y="676">打开位置：target</text><path class="u" d="M311 679H348"/></g>
<g id="r15"><text class="t" x="367" y="654">_blank</text><path class="u" d="M357 657H378"/></g>
<g id="r16"><text class="t" x="392" y="654">新窗口</text><path class="u" d="M385 657H400"/></g>
<g id="r17"><text class="t" x="364" y="665">_top</text><path class="u" d="M357 668H371"/></g>
<g id="r18"><text class="t" x="364" y="676">_self</text><path class="u" d="M357 679H372"/></g>
<g id="r19"><text class="t" x="391" y="676">当前窗口</text><path class="u" d="M380 679H403"/></g>
<g id="r20"><text class="t" x="367" y="687">_parent</text><path class="u" d="M357 690H378"/></g>
<g id="r21"><text class="t" x="371" y="698">framename</text><path class="u" d="M357 701H386"/></g>
<g id="r22"><text class="t" x="423" y="698">name 值为 ... 的 &lt;iframe&gt;中</text><path class="u" d="M394 701H453"/></g>
</svg>
